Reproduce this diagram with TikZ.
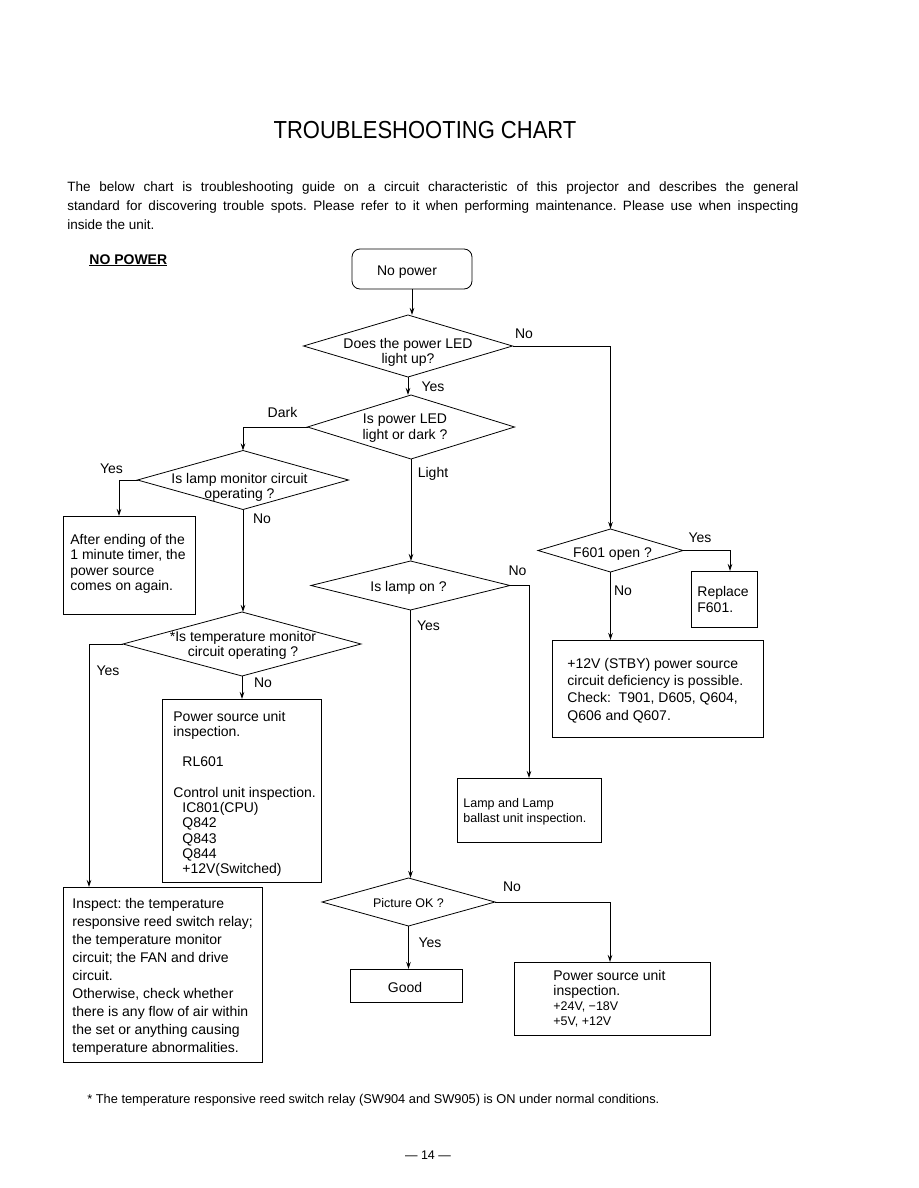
\documentclass[tikz,border=0pt]{standalone}
\usepackage{fontspec}
\usepackage{graphicx}
\setmainfont{Liberation Sans}
\usetikzlibrary{arrows.meta,shapes.geometric}
\begin{document}
\frenchspacing
\begin{tikzpicture}[x=1pt,y=-1pt,line width=0.8pt,
  arr/.style={-{Stealth[length=7pt,width=4.5pt]}},
  dia/.style={draw,diamond,inner sep=0pt,outer sep=0pt},
  box/.style={draw,rectangle,inner sep=0pt,outer sep=0pt,anchor=north west},
  rbox/.style={draw,rectangle,rounded corners=8pt,inner sep=0pt,outer sep=0pt},
  ctext/.style={align=center,inner sep=0pt,font=\fontsize{14}{15.5}\selectfont},
  lbl/.style={inner sep=0pt,text height=10pt,text depth=3pt,font=\fontsize{14}{15.5}\selectfont},
  btext/.style={align=left,inner sep=0pt,anchor=north west,font=\fontsize{14}{15.5}\selectfont},
  ptext/.style={inner sep=0pt,anchor=base west,font=\fontsize{13.5}{19}\selectfont}]
\useasboundingbox (0,0) rectangle (918,1188);
\fill[white] (0,0) rectangle (918,1188);

% heading and intro
\node[inner sep=0pt,anchor=base,font=\fontsize{22}{26}\selectfont] (title) at (425,139) {\scalebox{1}[1.12]{TROUBLESHOOTING CHART}};
\node[ptext] (p1) at (67,191) {\makebox[731pt][s]{The below chart is troubleshooting guide on a circuit characteristic of this projector and describes the general}};
\node[ptext] (p2) at (67,210) {\makebox[731pt][s]{standard for discovering trouble spots. Please refer to it when performing maintenance. Please use when inspecting}};
\node[ptext] (p3) at (67,229) {inside the unit.};
\node[inner sep=0pt,anchor=base west,font=\fontsize{14}{16}\selectfont\bfseries] (nopw) at (89,264) {\underline{NO POWER}};

% start
\node[rbox,minimum width=120pt,minimum height=40pt] (np) at (412,269) {};
\node[lbl] (npt) at (407,271.5) {No power};

% diamonds
\node[dia,minimum width=209pt,minimum height=62pt] (d1) at (408,346) {};
\node[ctext] (t1) at (408,352.4) {Does the power LED\\light up?};
\node[dia,minimum width=207pt,minimum height=64pt] (d2) at (411,427) {};
\node[ctext] (t2) at (405,428) {Is power LED\\light or dark ?};
\node[dia,minimum width=211pt,minimum height=59pt] (d3) at (243,480) {};
\node[ctext] (t3) at (239.5,487.4) {Is lamp monitor circuit\\operating ?};
\node[dia,minimum width=238pt,minimum height=64pt] (d5) at (242,644) {};
\node[ctext] (t5) at (243,645.4) {*Is temperature monitor\\circuit operating ?};
\node[dia,minimum width=199pt,minimum height=49pt] (d4) at (410.5,585.5) {};
\node[lbl] (t4) at (408.5,587.5) {Is lamp on ?};
\node[dia,minimum width=145pt,minimum height=43pt] (d6) at (610.5,550.5) {};
\node[lbl] (t6) at (612.5,553.5) {F601 open ?};
\node[dia,minimum width=173pt,minimum height=48pt] (d7) at (408.5,902) {};
\node[lbl,font=\fontsize{12.5}{14}\selectfont] (t7) at (408.5,903.5) {Picture OK ?};

% boxes
\node[box,minimum width=132pt,minimum height=98pt] (after) at (63,516) {};
\node[btext] (aftert) at (70,533.8) {After ending of the\\1 minute timer, the\\power source\\comes on again.};

\node[box,minimum width=159pt,minimum height=183pt] (psu) at (162,699) {};
\node[btext,font=\fontsize{14}{15.3}\selectfont] (psut) at (173,710.8) {Power source unit\\inspection.\\[15pt]\hspace*{9pt}RL601\\[15pt]Control unit inspection.\\\hspace*{9pt}IC801(CPU)\\\hspace*{9pt}Q842\\\hspace*{9pt}Q843\\\hspace*{9pt}Q844\\\hspace*{9pt}+12V(Switched)};

\node[box,minimum width=199pt,minimum height=175pt] (insp) at (63,887) {};
\node[btext,font=\fontsize{14}{18}\selectfont] (inspt) at (72,897.8) {Inspect: the temperature\\responsive reed switch relay;\\the temperature monitor\\circuit; the FAN and drive\\circuit.\\Otherwise, check whether\\there is any flow of air within\\the set or anything causing\\temperature abnormalities.};

\node[box,minimum width=66pt,minimum height=56pt] (repl) at (691,571) {};
\node[btext,font=\fontsize{14}{16}\selectfont] (replt) at (697,585.8) {Replace\\F601.};

\node[box,minimum width=211pt,minimum height=97pt] (v12) at (552,640) {};
\node[btext,font=\fontsize{14}{17.3}\selectfont] (v12t) at (567,657.8) {+12V (STBY) power source\\circuit deficiency is possible.\\Check:\ \ T901, D605, Q604,\\Q606 and Q607.};

\node[box,minimum width=144pt,minimum height=64pt] (lamp) at (457,778) {};
\node[btext,font=\fontsize{12.5}{15}\selectfont] (lampt) at (463,798.4) {Lamp and Lamp\\ballast unit inspection.};

\node[box,minimum width=112pt,minimum height=33pt] (good) at (350,969) {};
\node[lbl] (goodt) at (405,988.5) {Good};

\node[box,minimum width=196pt,minimum height=73pt] (psu2) at (514,962) {};
\node[btext,font=\fontsize{14}{15}\selectfont] (psu2t) at (553,969.8) {Power source unit\\inspection.\\\fontsize{12.5}{15}\selectfont +24V, −18V\\\fontsize{12.5}{15}\selectfont +5V, +12V};

% connectors
\draw[arr] (np.south) -- (np.south |- d1.north);
\draw[arr] (d1.east) -| (d6.north);
\draw[arr] (d1.south) -- (d1.south |- d2.north);
\draw[arr] (d2.west) -| (d3.north);
\draw[arr] (d2.south) -- (d2.south |- d4.north);
\draw[arr] (d3.west) -| ([xshift=56pt]after.north west);
\draw[arr] (d3.south) -- (d3.south |- d5.north);
\draw[arr] (d5.west) -| ([xshift=26pt]insp.north west);
\draw[arr] (d5.south) -- (d5.south |- psu.north);
\draw[arr] (d4.east) -| (lamp.north);
\draw[arr] (d4.south) -- (d4.south |- d7.north);
\draw[arr] (d6.east) -| ([xshift=39pt]repl.north west);
\draw[arr] (d6.south) -- (d6.south |- v12.north);
\draw[arr] (d7.east) -| ([xshift=96pt]psu2.north west);
\draw[arr] (d7.south) -- (d7.south |- good.north);

% branch labels
\node[lbl] (l1) at (524,334.5) {No};
\node[lbl] (l2) at (433,387.5) {Yes};
\node[lbl] (l3) at (282.5,413.5) {Dark};
\node[lbl] (l4) at (433,473.5) {Light};
\node[lbl] (l5) at (111.5,469.5) {Yes};
\node[lbl] (l6) at (262,519.5) {No};
\node[lbl] (l7) at (108,671.5) {Yes};
\node[lbl] (l8) at (263,683.5) {No};
\node[lbl] (l9) at (517.5,571.5) {No};
\node[lbl] (l10) at (428.5,626.5) {Yes};
\node[lbl] (l11) at (700,538.5) {Yes};
\node[lbl] (l12) at (623,591.5) {No};
\node[lbl] (l13) at (512,887.5) {No};
\node[lbl] (l14) at (430,943.5) {Yes};

% footnote and page number
\node[inner sep=0pt,anchor=base west,font=\fontsize{12.8}{15}\selectfont] (fn) at (87,1103) {* The temperature responsive reed switch relay (SW904 and SW905) is ON under normal conditions.};
\node[inner sep=0pt,anchor=base,font=\fontsize{12.5}{14}\selectfont] (pg) at (428,1159) {— 14 —};
\end{tikzpicture}
\end{document}
